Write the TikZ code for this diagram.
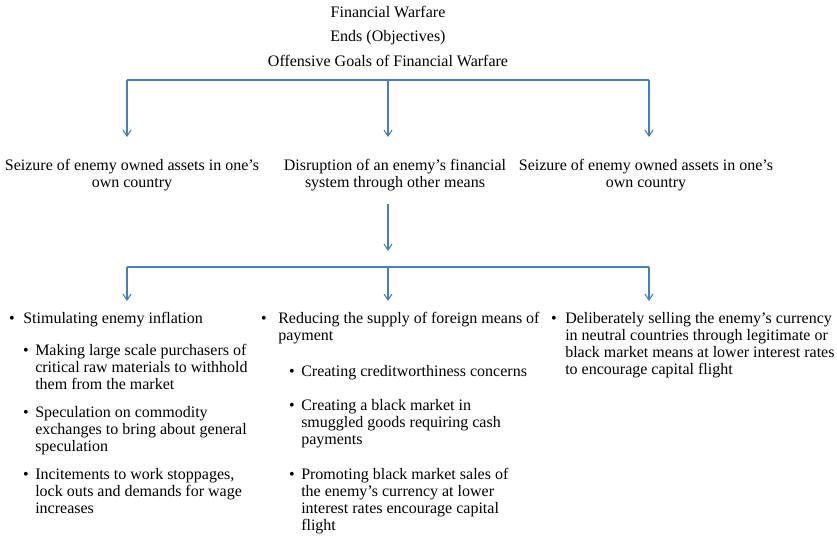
\documentclass[tikz,border=0pt]{standalone}
\usepackage{fontspec}
\setmainfont{Liberation Serif}
\usetikzlibrary{arrows.meta,positioning}
\definecolor{linkblue}{RGB}{74,126,187}

\begin{document}
\begin{tikzpicture}[x=0.75pt,y=-0.75pt,
    every node/.style={font=\fontsize{12}{12.75}\selectfont,inner sep=0pt},
    head/.style={anchor=north},
    goal/.style={anchor=north,align=center},
    item/.style={anchor=north west,align=left},
    dot/.style={anchor=north},
    link/.style={draw=linkblue,line width=0.8pt},
    arr/.style={link,-{Straight Barb[length=4.5pt,width=6pt]}}]
  \useasboundingbox (0,0) rectangle (837,536);

  % titles
  \node[head] (fin) at (388,5) {\strut Financial Warfare};
  \node[head,below=5.25pt of fin] (ends) {\strut Ends (Objectives)};
  \node[head,below=5.25pt of ends] (off) {\strut Offensive Goals of Financial Warfare};

  % goals
  \node[goal] (own)  at (132,158) {\strut Seizure of enemy owned assets in one’s\\own country\strut};
  \node[goal] (dis)  at (395,158) {\strut Disruption of an enemy’s financial\\system through other means\strut};
  \node[goal] (own2) at (646,158) {\strut Seizure of enemy owned assets in one’s\\own country\strut};

  \coordinate (ja) at (127,80);
  \coordinate (jb) at (388,80);
  \coordinate (jc) at (649,80);
  \draw[link] (ja) -- (jc);
  \foreach \j/\g in {ja/own,jb/dis,jc/own2}
    \draw[arr,shorten >=15.75pt] (\j) -- (\j |- \g.north);

  \coordinate (ka) at (127,267);
  \coordinate (kb) at (388,267);
  \coordinate (kc) at (649,267);
  \draw[arr,shorten <=8.25pt,shorten >=12pt] (dis.south -| kb) -- (kb);
  \draw[link] (ka) -- (kc);

  % means
  \node[item] (stim) at (23,311) {\strut Stimulating enemy inflation\strut};
  \node[item] (mk)   at (35,343) {\strut Making large scale purchasers of\\critical raw materials to withhold\\them from the market\strut};
  \node[item] (spc)  at (35,405) {\strut Speculation on commodity\\exchanges to bring about general\\speculation\strut};
  \node[item] (inc)  at (35,467) {\strut Incitements to work stoppages,\\lock outs and demands for wage\\increases\strut};

  \node[item] (red)  at (278,311) {\strut Reducing the supply of foreign means of\\payment\strut};
  \node[item] (cr)   at (301,364) {\strut Creating creditworthiness concerns\strut};
  \node[item] (bm)   at (301,398) {\strut Creating a black market in\\smuggled goods requiring cash\\payments\strut};
  \node[item] (pr)   at (301,467) {\strut Promoting black market sales of\\the enemy’s currency at lower\\interest rates encourage capital\\flight\strut};

  \node[item] (deli) at (565,311) {\strut Deliberately selling the enemy’s currency\\in neutral countries through legitimate or\\black market means at lower interest rates\\to encourage capital flight\strut};

  \node[dot] (d1) at (12,311)  {\strut\textbullet};
  \node[dot] (d2) at (26,343)  {\strut\textbullet};
  \node[dot] (d3) at (26,405)  {\strut\textbullet};
  \node[dot] (d4) at (26,467)  {\strut\textbullet};
  \node[dot] (d5) at (264,311) {\strut\textbullet};
  \node[dot] (d6) at (292,364) {\strut\textbullet};
  \node[dot] (d7) at (292,398) {\strut\textbullet};
  \node[dot] (d8) at (292,467) {\strut\textbullet};
  \node[dot] (d9) at (554,311) {\strut\textbullet};

  \foreach \k/\i in {ka/stim,kb/red,kc/deli}
    \draw[arr,shorten >=7.5pt] (\k) -- (\k |- \i.north);
\end{tikzpicture}
\end{document}
